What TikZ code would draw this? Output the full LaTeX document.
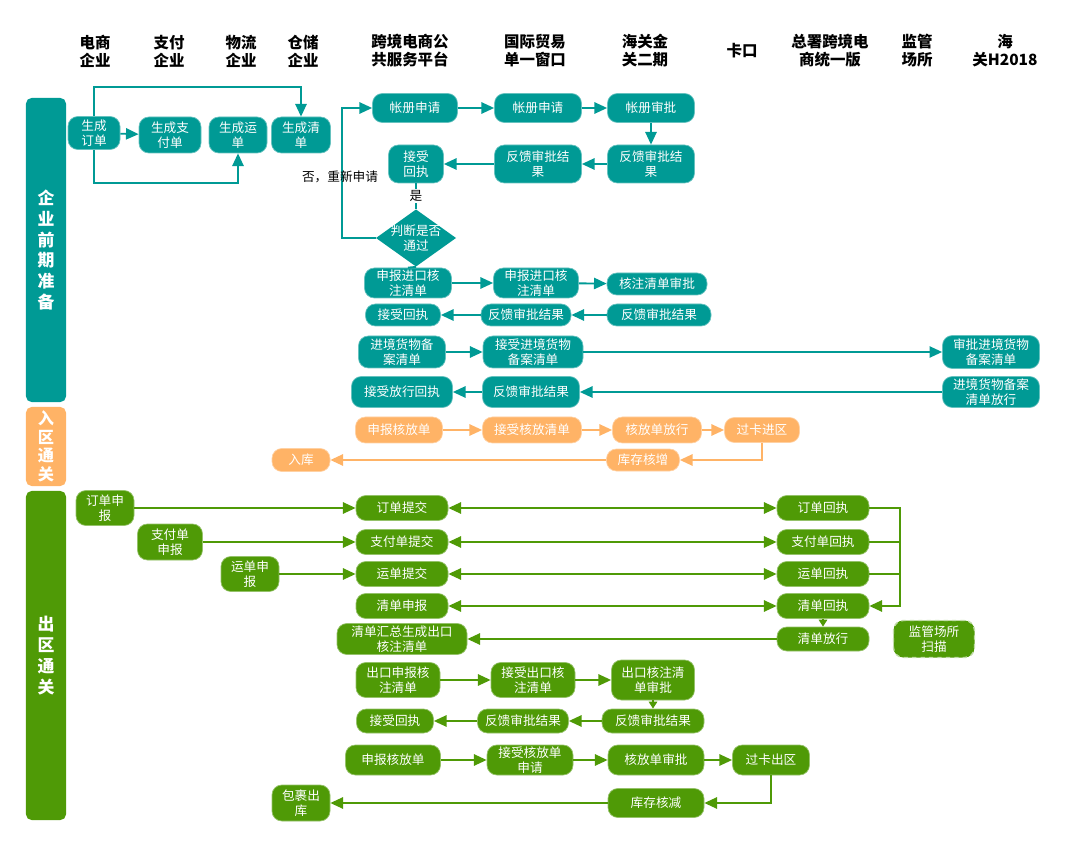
\documentclass[tikz,border=0pt]{standalone}
\usepackage{fontspec}
\setmainfont{Noto Sans CJK SC}
\usetikzlibrary{arrows.meta}

\definecolor{tealc}{HTML}{009A95}
\definecolor{orangec}{HTML}{FFB366}
\definecolor{greenc}{HTML}{4F9A06}

\tikzset{
  sz/.style 2 args={minimum width=#1*0.025cm, minimum height=#2*0.025cm},
  box/.style={rounded corners=7pt, text=white, align=center, inner sep=0pt,
    line width=0.5pt, font=\fontsize{9}{10.8}\selectfont},
  tbox/.style={box, fill=tealc, draw=tealc!60!white},
  obox/.style={box, fill=orangec, draw=orangec!60!white},
  gbox/.style={box, fill=greenc, draw=greenc!60!white},
  kopf/.style={align=center, font=\bfseries\fontsize{11}{12.8}\selectfont},
  spur/.style={rounded corners=4pt, text=white, align=center, inner sep=0pt,
    minimum width=1cm, font=\bfseries\fontsize{12}{14.8}\selectfont},
  pfeil/.style={-{Triangle[length=9pt,width=8pt]}, line width=1.3pt},
  dpfeil/.style={{Triangle[length=9pt,width=8pt]}-{Triangle[length=9pt,width=8pt]}, line width=1.3pt},
}

\begin{document}
\begin{tikzpicture}[x=0.025cm, y=-0.025cm]
  \useasboundingbox (0,0) rectangle (1080,846);

  % Spaltenkoepfe
  \node[kopf] (h1) at (95,51) {电商\\企业};
  \node[kopf] (h2) at (169,51) {支付\\企业};
  \node[kopf] (h3) at (241,51) {物流\\企业};
  \node[kopf] (h4) at (303,51) {仓储\\企业};
  \node[kopf] (h5) at (410,51) {跨境电商公\\共服务平台};
  \node[kopf] (h6) at (535,51) {国际贸易\\单一窗口};
  \node[kopf] (h7) at (645,51) {海关金\\关二期};
  \node[kopf] (h8) at (742,51) {卡口};
  \node[kopf] (h9) at (830,51) {总署跨境电\\商统一版};
  \node[kopf] (h10) at (917,51) {监管\\场所};
  \node[kopf] (h11) at (1005,51) {海\\关H2018};

  % Spuren links
  \node[spur, fill=tealc, minimum height=7.6cm] (l1) at (46,250) {企\\业\\前\\期\\准\\备};
  \node[spur, fill=orangec, minimum height=1.975cm, font=\bfseries\fontsize{11.5}{13.2}\selectfont] (l2) at (46,446.5) {入\\区\\通\\关};
  \node[spur, fill=greenc, minimum height=8.225cm] (l3) at (46,655.5) {出\\区\\通\\关};

  %企业前期准备
  \node[tbox, sz={52}{33}] (o1) at (94,133) {生成\\订单};
  \node[tbox, sz={62}{36}] (o2) at (170,135) {生成支\\付单};
  \node[tbox, sz={58}{36}] (o3) at (238,135) {生成运\\单};
  \node[tbox, sz={59}{36}] (o4) at (301,135) {生成清\\单};
  \draw[pfeil, tealc] (o1) -- (o2);
  \draw[pfeil, tealc] (o1.north) -- ++(0,-29.5) -| (o4.north);
  \draw[pfeil, tealc] (o1.south) -- ++(0,33.5) -| (o3.south);

  \node[tbox, sz={85}{29}] (z1) at (415,108) {帐册申请};
  \node[tbox, sz={87}{29}] (z2) at (538,108) {帐册申请};
  \node[tbox, sz={87}{29}] (z3) at (651,108) {帐册审批};
  \node[tbox, sz={55}{38}] (r1) at (416,164) {接受\\回执};
  \node[tbox, sz={87}{38}] (f1) at (538,164) {反馈审批结\\果};
  \node[tbox, sz={87}{38}] (f2) at (651,164) {反馈审批结\\果};
  \fill[tealc] (376,238) -- (416,209.5) -- (456,238) -- (416,266.5) -- cycle;
  \node[box, sz={80}{57}] (d1) at (416,238) {判断是否\\通过};
  \draw[pfeil, tealc] (z1) -- (z2);
  \draw[pfeil, tealc] (z2) -- (z3);
  \draw[pfeil, tealc] (z3) -- (f2);
  \draw[pfeil, tealc] (f2) -- (f1);
  \draw[pfeil, tealc] (f1) -- (r1);
  \draw[tealc, line width=1.3pt] (r1) -- node[fill=white, text=black, inner sep=1pt, font=\fontsize{9}{10}\selectfont] (ja) {是} (d1.north);
  \draw[pfeil, tealc] (d1.west) -- ++(-34,0) |- (z1.west);
  \node[font=\fontsize{9}{10}\selectfont] (nein) at (340,177) {否，重新申请};

  \node[tbox, sz={87}{30}] (i1) at (408,283) {申报进口核\\注清单};
  \node[tbox, sz={85}{30}] (i2) at (536,283) {申报进口核\\注清单};
  \node[tbox, sz={100}{22}] (i3) at (657,284) {核注清单审批};
  \node[tbox, sz={75}{22}] (i4) at (403,315) {接受回执};
  \node[tbox, sz={90}{22}] (i5) at (526,315) {反馈审批结果};
  \node[tbox, sz={104}{22}] (i6) at (659,315) {反馈审批结果};
  \draw[tealc, line width=1.3pt] (d1.south) -- (i1.north);
  \draw[pfeil, tealc] (i1) -- (i2);
  \draw[pfeil, tealc] (i2) -- (i3);
  \draw[pfeil, tealc] (i6) -- (i5);
  \draw[pfeil, tealc] (i5) -- (i4);

  \node[tbox, sz={87}{32}] (b1) at (402,352) {进境货物备\\案清单};
  \node[tbox, sz={100}{32}] (b2) at (533,352) {接受进境货物\\备案清单};
  \node[tbox, sz={97}{33}] (b3) at (991,352) {审批进境货物\\备案清单};
  \node[tbox, sz={101}{31}] (b4) at (402,392) {接受放行回执};
  \node[tbox, sz={97}{31}] (b5) at (531,392) {反馈审批结果};
  \node[tbox, sz={97}{31}] (b6) at (991,392) {进境货物备案\\清单放行};
  \draw[pfeil, tealc] (b1) -- (b2);
  \draw[pfeil, tealc] (b2) -- (b3);
  \draw[pfeil, tealc] (b6) -- (b5);
  \draw[pfeil, tealc] (b5) -- (b4);

  % 入区通关
  \node[obox, sz={87}{26}] (p1) at (399,430) {申报核放单};
  \node[obox, sz={99}{26}] (p2) at (532,430) {接受核放清单};
  \node[obox, sz={89}{26}] (p3) at (657,430) {核放单放行};
  \node[obox, sz={75}{25}] (p4) at (762,430) {过卡进区};
  \node[obox, sz={73}{22}] (p5) at (643,460) {库存核增};
  \node[obox, sz={58}{23}] (p6) at (301,460) {入库};
  \draw[pfeil, orangec] (p1) -- (p2);
  \draw[pfeil, orangec] (p2) -- (p3);
  \draw[pfeil, orangec] (p3) -- (p4);
  \draw[pfeil, orangec] (p4.south) |- (p5.east);
  \draw[pfeil, orangec] (p5) -- (p6);

  % 出区通关
  \node[gbox, sz={58}{35}] (g1) at (105,508) {订单申\\报};
  \node[gbox, sz={65}{36}] (g2) at (170,542) {支付单\\申报};
  \node[gbox, sz={58}{35}] (g3) at (250,574) {运单申\\报};
  \node[gbox, sz={92}{25}] (s1) at (402,508) {订单提交};
  \node[gbox, sz={92}{25}] (s2) at (402,542) {支付单提交};
  \node[gbox, sz={92}{25}] (s3) at (402,574) {运单提交};
  \node[gbox, sz={92}{25}] (s4) at (402,606) {清单申报};
  \node[gbox, sz={130}{31}] (s5) at (402,639) {清单汇总生成出口\\核注清单};
  \node[gbox, sz={92}{25}] (c1) at (823,508) {订单回执};
  \node[gbox, sz={92}{25}] (c2) at (823,542) {支付单回执};
  \node[gbox, sz={92}{25}] (c3) at (823,574) {运单回执};
  \node[gbox, sz={92}{25}] (c4) at (823,606) {清单回执};
  \node[gbox, sz={92}{24}] (c5) at (823,639) {清单放行};
  \node[gbox, sz={81}{37}, dashed, draw=greenc!35!white, line width=1pt] (m1) at (934,639) {监管场所\\扫描};
  \draw[pfeil, greenc] (g1) -- (s1);
  \draw[pfeil, greenc] (g2) -- (s2);
  \draw[pfeil, greenc] (g3) -- (s3);
  \draw[dpfeil, greenc] (s1) -- (c1);
  \draw[dpfeil, greenc] (s2) -- (c2);
  \draw[dpfeil, greenc] (s3) -- (c3);
  \draw[dpfeil, greenc] (s4) -- (c4);
  \draw[pfeil, greenc] (c1.east) -- ++(31,0) |- (c4.east);
  \draw[greenc, line width=1.3pt] (c2.east) -- ++(31,0);
  \draw[greenc, line width=1.3pt] (c3.east) -- ++(31,0);
  \draw[-{Triangle[length=5pt,width=6pt]}, greenc, line width=1.3pt] (c4) -- (c5);
  \draw[pfeil, greenc] (c5) -- (s5);

  \node[gbox, sz={84}{35}] (e1) at (398,680) {出口申报核\\注清单};
  \node[gbox, sz={84}{35}] (e2) at (533,680) {接受出口核\\注清单};
  \node[gbox, sz={83}{40}] (e3) at (653,680) {出口核注清\\单审批};
  \node[gbox, sz={77}{24}] (e4) at (395,721) {接受回执};
  \node[gbox, sz={91}{24}] (e5) at (523,721) {反馈审批结果};
  \node[gbox, sz={102}{24}] (e6) at (653,721) {反馈审批结果};
  \draw[pfeil, greenc] (e1) -- (e2);
  \draw[pfeil, greenc] (e2) -- (e3);
  \draw[-{Triangle[length=5pt,width=6pt]}, greenc, line width=1.3pt] (e3) -- (e6);
  \draw[pfeil, greenc] (e6) -- (e5);
  \draw[pfeil, greenc] (e5) -- (e4);

  \node[gbox, sz={95}{30}] (k1) at (393,760) {申报核放单};
  \node[gbox, sz={86}{30}] (k2) at (530,760) {接受核放单\\申请};
  \node[gbox, sz={96}{30}] (k3) at (656,760) {核放单审批};
  \node[gbox, sz={77}{30}] (k4) at (771,760) {过卡出区};
  \node[gbox, sz={96}{29}] (k5) at (656,803) {库存核减};
  \node[gbox, sz={58}{36}] (k6) at (301,803) {包裹出\\库};
  \draw[pfeil, greenc] (k1) -- (k2);
  \draw[pfeil, greenc] (k2) -- (k3);
  \draw[pfeil, greenc] (k3) -- (k4);
  \draw[pfeil, greenc] (k4.south) |- (k5.east);
  \draw[pfeil, greenc] (k5) -- (k6);

\end{tikzpicture}
\end{document}
